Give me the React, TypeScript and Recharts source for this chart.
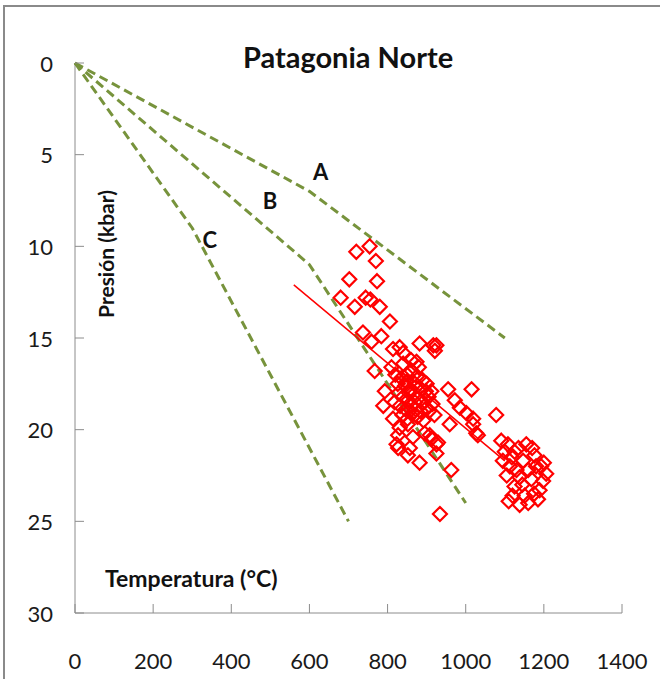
import React from "react";
import {
  ScatterChart,
  Scatter,
  XAxis,
  YAxis,
  ReferenceDot,
} from "recharts";

// geotherms (temperature °C, pressure kbar)
const geothermA = [
  { t: 0, p: 0 },
  { t: 600, p: 7 },
  { t: 1100, p: 15 },
];
const geothermB = [
  { t: 0, p: 0 },
  { t: 600, p: 11 },
  { t: 1000, p: 24 },
];
const geothermC = [
  { t: 0, p: 0 },
  { t: 300, p: 9 },
  { t: 700, p: 25 },
];

// linear trend through the samples
const trendLine = [
  { t: 560, p: 12.1 },
  { t: 1100, p: 21.7 },
];

// P-T estimates [temperature, pressure]
const samplePairs: [number, number][] = [
  [720, 10.3], [754, 10.0], [770, 10.8], [702, 11.8], [773, 11.9], [680, 12.8],
  [716, 13.3], [744, 12.8], [756, 12.9], [780, 13.3], [806, 14.1], [737, 14.7],
  [784, 14.9], [759, 15.2], [882, 15.3], [925, 15.4], [917, 15.4], [831, 15.5],
  [921, 15.7], [814, 15.6], [840, 15.8],
  [767, 16.8], [810, 16.6], [840, 16.4], [874, 16.3], [793, 17.9], [789, 18.7],
  [912, 17.9], [955, 17.8], [1015, 17.8], [972, 18.4], [985, 18.8], [1002, 19.1],
  [1019, 19.4], [959, 19.7], [1027, 20.2], [814, 19.4], [831, 19.9], [852, 19.7],
  [895, 20.2], [912, 20.5], [929, 20.7], [823, 20.8], [857, 21.0], [925, 21.3],
  [1078, 19.2], [1019, 19.7], [1031, 20.3],
  [820, 17.0], [835, 17.2], [850, 17.0], [862, 16.8], [875, 17.1], [890, 17.3],
  [845, 17.6], [858, 17.8], [870, 17.5], [882, 17.7], [898, 17.9], [828, 18.0],
  [840, 18.2], [853, 18.4], [866, 18.1], [878, 18.3], [891, 18.5], [905, 18.2],
  [818, 18.5], [832, 18.7], [846, 18.9], [860, 18.7], [872, 18.9], [885, 19.0],
  [900, 18.8], [838, 19.2], [851, 19.4], [864, 19.1], [877, 19.3], [892, 19.5],
  [906, 19.0], [826, 17.5], [860, 16.2], [880, 16.6], [870, 18.5], [855, 18.0],
  [848, 17.4], [900, 17.5], [915, 18.6], [920, 19.2],
  [827, 20.3], [865, 20.4], [908, 20.3], [925, 20.8], [827, 21.0], [852, 21.4],
  [882, 21.8], [963, 22.2], [934, 24.6],
  [1091, 20.6], [1108, 20.8], [1125, 21.2], [1155, 20.8], [1176, 21.4], [1147, 21.7],
  [1095, 21.7], [1113, 22.0], [1193, 22.0], [1206, 22.4], [1138, 22.6], [1168, 22.7],
  [1125, 23.1], [1189, 23.3], [1151, 23.6], [1100, 21.2], [1118, 21.5], [1135, 21.0],
  [1160, 22.2], [1180, 22.0], [1200, 21.8], [1130, 22.2], [1105, 22.5], [1145, 23.0],
  [1175, 23.5], [1110, 23.9], [1138, 24.1], [1160, 24.0], [1185, 23.8], [1120, 23.6],
  [1198, 22.8], [1170, 21.0],
];
const samples = samplePairs.map(([t, p]) => ({ t, p }));

const xTicks = [0, 200, 400, 600, 800, 1000, 1200, 1400];
const yTicks = [0, 5, 10, 15, 20, 25, 30];

const curveLabels = [
  { name: "A", t: 629, p: 5.9 },
  { name: "B", t: 499, p: 7.5 },
  { name: "C", t: 345, p: 9.65 },
];

const FONT = "Lato, 'Open Sans', sans-serif";
const GREEN = "#77933C";
const RED = "#FF0000";
const AXIS = "#8C8C8C";

const Diamond = (props: any) => {
  const { cx, cy } = props;
  const r = 7;
  return (
    <path
      d={`M${cx},${cy - r} L${cx + r},${cy} L${cx},${cy + r} L${cx - r},${cy} Z`}
      fill="none"
      stroke={RED}
      strokeWidth={2.2}
    />
  );
};

const NoShape = () => null;

const YTick = (props: any) => {
  const { x, y, payload } = props;
  return (
    <g>
      <line x1={x} x2={x + 9} y1={y} y2={y} stroke={AXIS} strokeWidth={1} />
      <text
        x={x - 22}
        y={y}
        textAnchor="end"
        dominantBaseline="central"
        fontSize={22}
        fontFamily={FONT}
        fill="#1a1a1a"
      >
        {payload.value}
      </text>
    </g>
  );
};

const XTick = (props: any) => {
  const { x, y, payload } = props;
  return (
    <g>
      <line x1={x} x2={x} y1={y} y2={y - 9} stroke={AXIS} strokeWidth={1} />
      <text
        x={x}
        y={y + 47}
        textAnchor="middle"
        dominantBaseline="central"
        fontSize={22}
        fontFamily={FONT}
        fill="#1a1a1a"
      >
        {payload.value}
      </text>
    </g>
  );
};

const dashed = { stroke: GREEN, strokeWidth: 3, strokeDasharray: "9 5" };

export default function App() {
  return (
    <div
      style={{
        position: "absolute",
        left: 0,
        top: 0,
        width: 660,
        height: 679,
        background: "#fff",
        fontFamily: FONT,
        overflow: "hidden",
      }}
    >
      {/* frame */}
      <div
        style={{
          position: "absolute",
          left: 3,
          top: 5,
          width: 700,
          height: 700,
          borderLeft: "2px solid #8a8a8a",
          borderTop: "2px solid #8a8a8a",
        }}
      />
      <ScatterChart
        width={660}
        height={679}
        margin={{ top: 63, right: 38, bottom: 26, left: 0 }}
        style={{ position: "absolute", left: 0, top: 0 }}
      >
        <XAxis
          type="number"
          dataKey="t"
          domain={[0, 1400]}
          ticks={xTicks}
          height={40}
          tickLine={false}
          tickSize={0}
          tickMargin={0}
          stroke={AXIS}
          tick={<XTick />}
        />
        <YAxis
          type="number"
          dataKey="p"
          domain={[0, 30]}
          ticks={yTicks}
          reversed
          width={75}
          tickLine={false}
          tickSize={0}
          tickMargin={0}
          stroke={AXIS}
          tick={<YTick />}
        />
        <Scatter data={geothermA} line={dashed} shape={NoShape} isAnimationActive={false} />
        <Scatter data={geothermB} line={dashed} shape={NoShape} isAnimationActive={false} />
        <Scatter data={geothermC} line={dashed} shape={NoShape} isAnimationActive={false} />
        <Scatter
          data={trendLine}
          line={{ stroke: RED, strokeWidth: 1.5 }}
          shape={NoShape}
          isAnimationActive={false}
        />
        <Scatter data={samples} shape={<Diamond />} isAnimationActive={false} />
        {curveLabels.map((c) => (
          <ReferenceDot
            key={c.name}
            x={c.t}
            y={c.p}
            r={0}
            shape={(p: any) => (
              <text
                x={p.cx}
                y={p.cy}
                textAnchor="middle"
                dominantBaseline="central"
                fontSize={22}
                fontWeight="bold"
                fontFamily={FONT}
                fill="#111"
              >
                {c.name}
              </text>
            )}
          />
        ))}
      </ScatterChart>
      <div
        style={{
          position: "absolute",
          left: 0,
          width: 696,
          top: 40,
          textAlign: "center",
          fontSize: 29,
          fontWeight: "bold",
          color: "#111",
          lineHeight: "34px",
        }}
      >
        Patagonia Norte
      </div>
      <div
        style={{
          position: "absolute",
          left: 105,
          top: 254,
          transform: "translate(-50%, -50%) rotate(-90deg)",
          fontSize: 21,
          fontWeight: "bold",
          color: "#111",
          whiteSpace: "nowrap",
        }}
      >
        Presión (kbar)
      </div>
      <div
        style={{
          position: "absolute",
          left: 105,
          top: 563,
          fontSize: 23,
          fontWeight: "bold",
          color: "#111",
          whiteSpace: "nowrap",
          lineHeight: "30px",
        }}
      >
        Temperatura (°C)
      </div>
    </div>
  );
}
